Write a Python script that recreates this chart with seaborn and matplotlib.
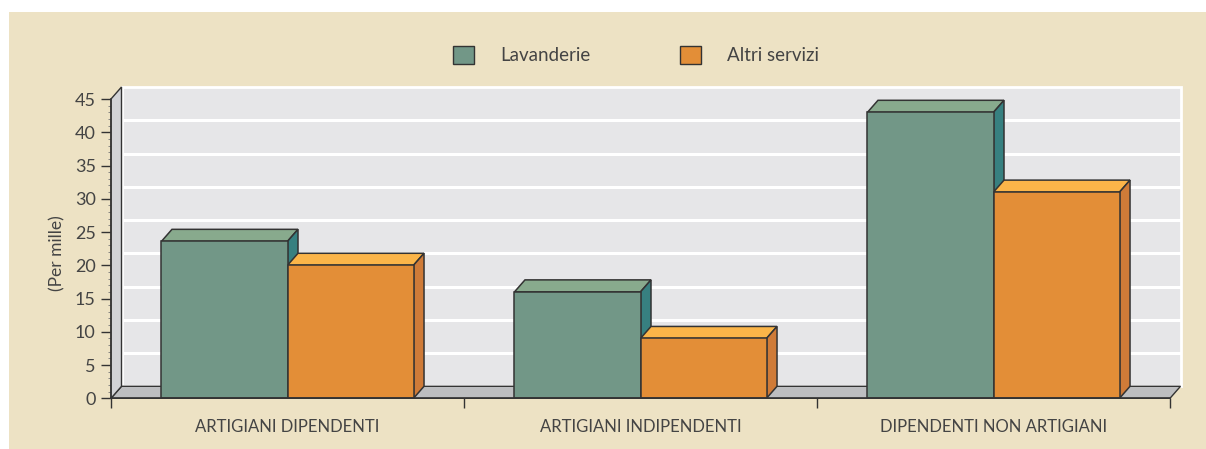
import matplotlib.pyplot as plt
import seaborn as sns
import pandas as pd
from matplotlib.patches import Polygon, Rectangle, Patch

# Dati (per mille)
categorie = ['ARTIGIANI DIPENDENTI', 'ARTIGIANI INDIPENDENTI', 'DIPENDENTI NON ARTIGIANI']
serie = ['Lavanderie', 'Altri servizi']
lavanderie = [23.6, 16.0, 43.0]
altri_servizi = [20.0, 9.0, 31.0]

df = pd.DataFrame({
    'Categoria': categorie * 2,
    'Valore': lavanderie + altri_servizi,
    'Serie': [serie[0]] * 3 + [serie[1]] * 3,
})

# colori: fronte, cima, lato
col_fronte = ['#729787', '#E38E37']
col_cima = ['#88AA8D', '#FBB549']
col_lato = ['#378080', '#CF7B38']
bordo = '#333333'
testo = '#444444'

sns.set_style('white')
plt.rcParams['font.family'] = ['Lato', 'DejaVu Sans']

W, H = 1206, 449
fig = plt.figure(figsize=(W / 100, H / 100), dpi=100)
fig.patch.set_facecolor('white')
fig.patches.append(Rectangle((9 / W, 0), 1, 1 - 12 / H, transform=fig.transFigure,
                             facecolor='#EDE2C4', edgecolor='none', zorder=-10))

ax = fig.add_axes([111 / W, 1 - 398.3 / H, (1170 - 111) / W, (398.3 - 99) / H])
ax.set_facecolor('none')

sns.barplot(data=df, x='Categoria', y='Valore', hue='Serie', palette=col_fronte,
            width=0.714, saturation=1, edgecolor=bordo, linewidth=1.1,
            legend=False, ax=ax, zorder=3)

ax.set_xlim(-0.5, 2.5)
ax.set_ylim(0, 45)

# profondita' prospettica
dx = 10.5 / 353
dy = 12 / 6.65

# parete di fondo, pavimento e parete sinistra
ax.add_patch(Rectangle((-0.5 + dx, dy), 3, 45, facecolor='#E6E6E8', edgecolor='white',
                       lw=2, zorder=0, clip_on=False))
for v in range(5, 45, 5):
    ax.plot([-0.5 + dx, 2.5 + dx], [v + dy, v + dy], color='white', lw=2.2,
            zorder=1, clip_on=False, solid_capstyle='butt')
ax.add_patch(Polygon([(-0.5, 0), (2.5, 0), (2.5 + dx, dy), (-0.5 + dx, dy)],
                     closed=True, facecolor='#BDBEC0', edgecolor=bordo, lw=1,
                     zorder=1.5, clip_on=False))
ax.add_patch(Polygon([(-0.5, 0), (-0.5 + dx, dy), (-0.5 + dx, 45 + dy), (-0.5, 45)],
                     closed=True, facecolor='#D2D3D6', edgecolor=bordo, lw=1,
                     zorder=1.5, clip_on=False))

# cime e lati delle barre
for j, cont in enumerate(ax.containers):
    for p in cont:
        x0 = p.get_x()
        w = p.get_width()
        h = p.get_height()
        ax.add_patch(Polygon([(x0, h), (x0 + dx, h + dy), (x0 + w + dx, h + dy), (x0 + w, h)],
                             closed=True, facecolor=col_cima[j], edgecolor=bordo, lw=1.1,
                             zorder=2 + j * 0.5, clip_on=False))
        ax.add_patch(Polygon([(x0 + w, 0), (x0 + w + dx, dy), (x0 + w + dx, h + dy), (x0 + w, h)],
                             closed=True, facecolor=col_lato[j], edgecolor=bordo, lw=1.1,
                             zorder=2 + j * 0.5, clip_on=False))

# assi
for s in ['top', 'right']:
    ax.spines[s].set_visible(False)
for s in ['left', 'bottom']:
    ax.spines[s].set_color(bordo)
    ax.spines[s].set_linewidth(1.1)
    ax.spines[s].set_zorder(4)

ax.set_yticks(range(0, 50, 5))
ax.set_yticks(range(0, 46), minor=True)
ax.set_xticks([0, 1, 2])
ax.set_xticklabels(categorie)
ax.set_xticks([-0.5, 0.5, 1.5, 2.5], minor=True)
ax.tick_params(axis='y', which='major', direction='out', length=7, width=1, color=bordo,
               labelsize=13, labelcolor=testo, pad=4, left=True)
ax.tick_params(axis='y', which='minor', direction='out', length=2.5, width=0.6, color='#777777', left=True)
ax.tick_params(axis='x', which='major', length=0, labelsize=12, labelcolor=testo, pad=15)
ax.tick_params(axis='x', which='minor', direction='out', length=7, width=1, color=bordo, bottom=True)
ax.set_xlabel('')
ax.set_ylabel('')

fig.text(57 / W, 1 - 253 / H, '(Per mille)', rotation=90, ha='center', va='center',
         fontsize=12.5, color=testo)

maniglie = [Patch(facecolor=col_fronte[0], edgecolor=bordo),
            Patch(facecolor=col_fronte[1], edgecolor=bordo)]
fig.legend(maniglie, serie, loc='center', bbox_to_anchor=(636 / W, 1 - 55 / H), ncol=2,
           frameon=False, fontsize=13.5, handlelength=1.1, handleheight=1.1,
           handletextpad=1.4, columnspacing=4.8, labelcolor=testo)

plt.savefig('out.png', dpi=100, facecolor=fig.get_facecolor())
